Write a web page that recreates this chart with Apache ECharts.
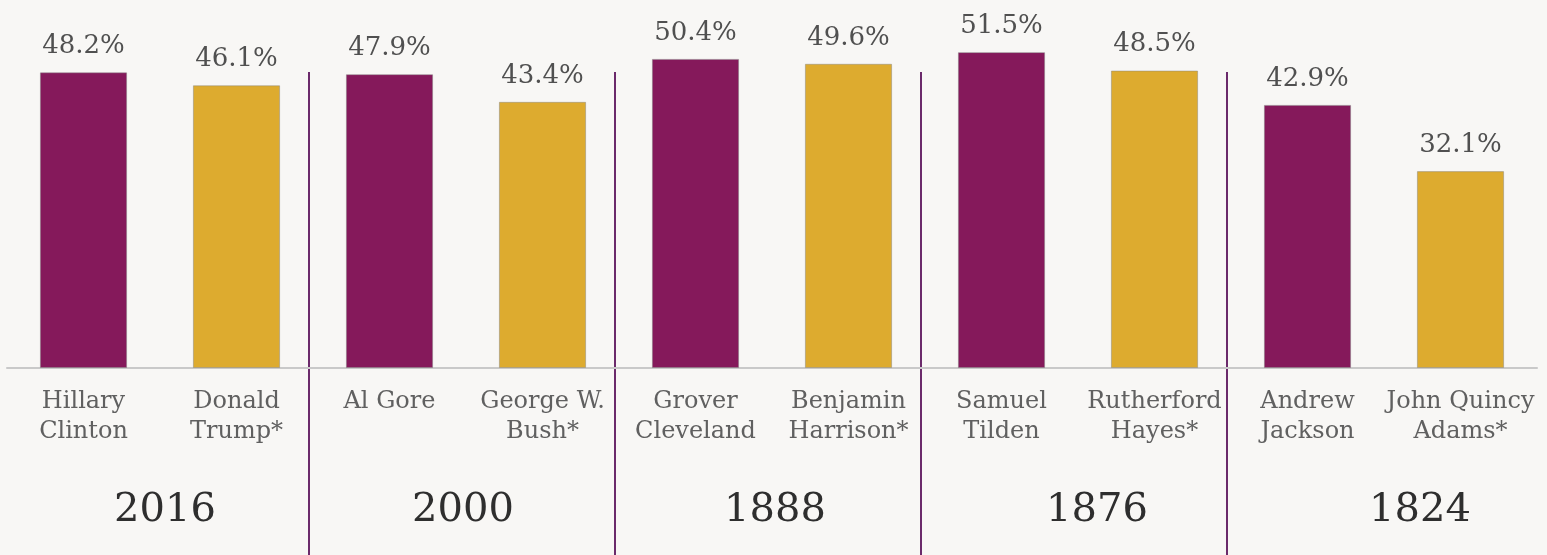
<!DOCTYPE html>
<html>
<head>
<meta charset="utf-8">
<script src="https://cdn.jsdelivr.net/npm/echarts@6/dist/echarts.min.js"></script>
<style>
  html, body { margin: 0; padding: 0; background: #f8f7f5; }
  #chart { width: 1547px; height: 555px; }
</style>
</head>
<body>
<div id="chart"></div>
<script>
// Popular vote share of each candidate, grouped by election year
const candidates = [
  'Hillary\nClinton', 'Donald\nTrump*',
  'Al Gore', 'George W.\nBush*',
  'Grover\nCleveland', 'Benjamin\nHarrison*',
  'Samuel\nTilden', 'Rutherford\nHayes*',
  'Andrew\nJackson', 'John Quincy\nAdams*'
];
const voteShare = [48.2, 46.1, 47.9, 43.4, 50.4, 49.6, 51.5, 48.5, 42.9, 32.1];
const years = ['2016', '2000', '1888', '1876', '1824'];
// horizontal nudge for each year label
const yearShift = [18, 2, 14, 46, 80];

const PURPLE = '#85195b';
const GOLD = '#ddab2f';

const chart = echarts.init(document.getElementById('chart'));

chart.setOption({
  backgroundColor: '#f8f7f5',
  animation: false,
  grid: [
    { left: 7, right: 10, top: 0, bottom: 187 },
    { left: 3, right: 14, top: 72, bottom: 0 }
  ],
  xAxis: [
    {
      type: 'category',
      gridIndex: 0,
      data: candidates,
      axisLine: { show: true, lineStyle: { color: '#c9c9c9', width: 2 } },
      axisTick: { show: false },
      axisLabel: {
        margin: 19,
        interval: 0,
        color: '#606060',
        fontFamily: 'DejaVu Serif',
        fontSize: 24,
        lineHeight: 30
      }
    },
    {
      type: 'category',
      gridIndex: 1,
      data: years.map((y, i) => ({ value: y, textStyle: { padding: [0, 0, 0, yearShift[i]] } })),
      axisLine: { show: false },
      axisTick: { show: false },
      axisLabel: {
        inside: true,
        margin: 24,
        color: '#2e2e2e',
        fontFamily: 'DejaVu Serif',
        fontSize: 40
      },
      splitLine: {
        show: true,
        showMinLine: false,
        showMaxLine: false,
        lineStyle: { color: '#6b2a6b', width: 2 }
      }
    }
  ],
  yAxis: [
    { type: 'value', gridIndex: 0, min: 0, max: 60, show: false },
    { type: 'value', gridIndex: 1, show: false }
  ],
  series: [
    {
      type: 'bar',
      xAxisIndex: 0,
      yAxisIndex: 0,
      barCategoryGap: '43%',
      data: voteShare.map((v, i) => ({
        value: v,
        itemStyle: { color: i % 2 === 0 ? PURPLE : GOLD }
      })),
      itemStyle: { borderColor: 'rgba(130,130,130,0.45)', borderWidth: 1 },
      label: {
        show: true,
        position: 'top',
        distance: 13,
        formatter: p => p.value.toFixed(1) + '%',
        color: '#505050',
        fontFamily: 'DejaVu Serif',
        fontSize: 26
      }
    }
  ]
});
</script>
</body>
</html>
